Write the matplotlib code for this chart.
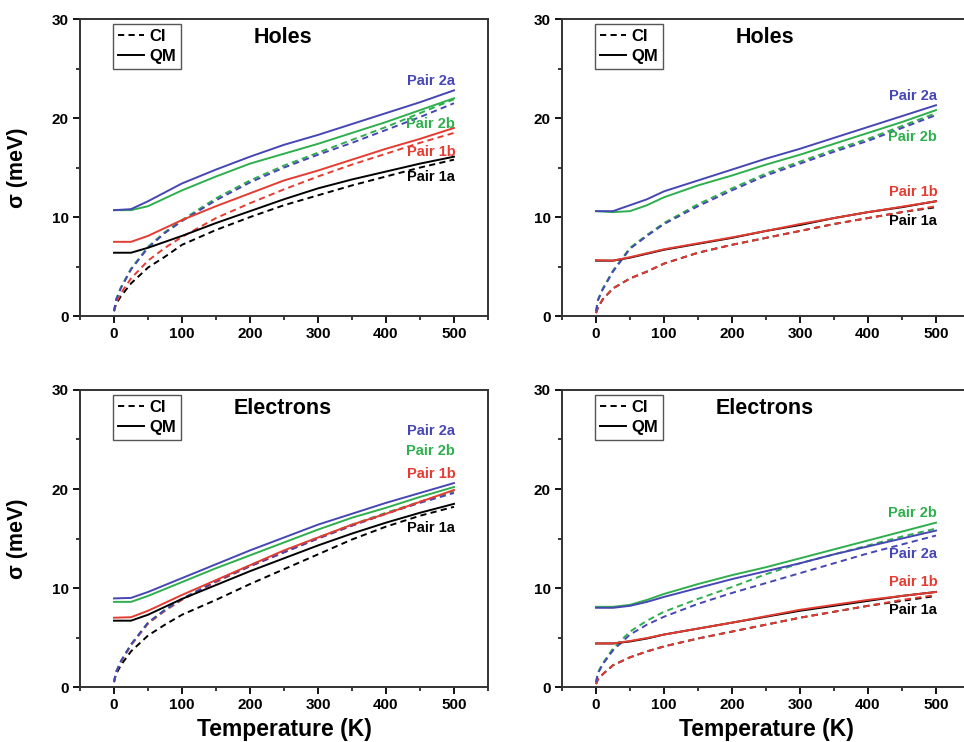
import matplotlib
matplotlib.use("Agg")
import matplotlib.pyplot as plt
from matplotlib.lines import Line2D
from matplotlib.ticker import MultipleLocator

plt.rcParams['font.family'] = ['Liberation Sans', 'DejaVu Sans']
plt.rcParams['font.weight'] = 'bold'

# temperatures (K)
T_CI = [0, 3, 10, 25, 50, 75, 100, 150, 200, 250, 300, 350, 400, 450, 500]
T_QM = [0, 25, 50, 75, 100, 150, 200, 250, 300, 350, 400, 450, 500]

# --- holes, left panel ---
hl_qm_2a = [10.7, 10.8, 11.6, 12.5, 13.4, 14.8, 16.1, 17.3, 18.3, 19.4, 20.5, 21.6, 22.8]
hl_qm_2b = [10.7, 10.7, 11.1, 11.9, 12.7, 14.1, 15.4, 16.4, 17.4, 18.5, 19.6, 20.8, 22.0]
hl_qm_1b = [7.5, 7.5, 8.1, 8.9, 9.7, 11.1, 12.4, 13.7, 14.7, 15.8, 16.9, 17.9, 19.0]
hl_qm_1a = [6.4, 6.4, 6.9, 7.5, 8.1, 9.4, 10.6, 11.8, 12.9, 13.8, 14.6, 15.4, 16.1]
hl_ci_2a = [0.5, 1.6, 2.8, 4.7, 6.9, 8.4, 9.6, 11.7, 13.5, 15.0, 16.3, 17.5, 18.8, 20.1, 21.5]
hl_ci_2b = [0.5, 1.7, 2.9, 4.8, 7.0, 8.5, 9.7, 11.9, 13.7, 15.2, 16.5, 17.8, 19.1, 20.5, 21.9]
hl_ci_1b = [0.5, 1.3, 2.3, 3.8, 5.6, 6.9, 8.0, 9.9, 11.4, 12.8, 14.1, 15.3, 16.4, 17.5, 18.5]
hl_ci_1a = [0.5, 1.2, 2.0, 3.3, 4.9, 6.0, 7.2, 8.7, 10.0, 11.2, 12.2, 13.2, 14.1, 15.0, 15.8]

# --- holes, right panel ---
hr_qm_2a = [10.6, 10.6, 11.2, 11.8, 12.6, 13.7, 14.8, 15.9, 16.9, 18.0, 19.1, 20.2, 21.3]
hr_qm_2b = [10.6, 10.5, 10.6, 11.2, 12.0, 13.2, 14.2, 15.3, 16.3, 17.4, 18.5, 19.6, 20.8]
hr_qm_1b = [5.65, 5.6, 5.95, 6.35, 6.75, 7.35, 7.95, 8.6, 9.3, 9.9, 10.5, 11.05, 11.6]
hr_qm_1a = [5.6, 5.6, 5.9, 6.3, 6.7, 7.3, 7.9, 8.6, 9.2, 9.9, 10.5, 11.0, 11.6]
hr_ci_2a = [0.5, 1.6, 2.7, 4.5, 6.8, 8.1, 9.3, 11.1, 12.7, 14.2, 15.4, 16.6, 17.7, 19.0, 20.3]
hr_ci_2b = [0.5, 1.7, 2.8, 4.6, 6.9, 8.2, 9.4, 11.3, 12.9, 14.4, 15.6, 16.8, 17.9, 19.2, 20.5]
hr_ci_1b = [0.3, 0.9, 1.7, 2.8, 3.8, 4.5, 5.3, 6.4, 7.2, 7.9, 8.6, 9.3, 9.9, 10.5, 11.1]
hr_ci_1a = [0.3, 0.9, 1.7, 2.8, 3.8, 4.5, 5.3, 6.4, 7.2, 7.9, 8.6, 9.3, 9.9, 10.5, 11.0]

# --- electrons, left panel ---
el_qm_2a = [8.95, 9.0, 9.6, 10.3, 11.0, 12.4, 13.8, 15.1, 16.4, 17.5, 18.6, 19.6, 20.6]
el_qm_2b = [8.6, 8.6, 9.2, 9.9, 10.6, 12.0, 13.3, 14.6, 15.9, 17.1, 18.1, 19.2, 20.2]
el_qm_1b = [7.0, 7.05, 7.7, 8.5, 9.3, 10.8, 12.3, 13.8, 15.1, 16.4, 17.5, 18.7, 19.9]
el_qm_1a = [6.7, 6.7, 7.3, 8.1, 8.9, 10.3, 11.7, 13.0, 14.3, 15.5, 16.6, 17.6, 18.5]
el_ci_2a = [0.5, 1.5, 2.6, 4.3, 6.5, 7.8, 8.9, 10.7, 12.2, 13.6, 15.0, 16.3, 17.5, 18.6, 19.6]
el_ci_2b = [0.5, 1.5, 2.6, 4.3, 6.5, 7.8, 8.9, 10.7, 12.3, 13.7, 15.1, 16.4, 17.6, 18.7, 19.8]
el_ci_1b = [0.5, 1.5, 2.5, 4.2, 6.4, 7.7, 8.8, 10.6, 12.2, 13.6, 15.0, 16.3, 17.5, 18.7, 19.8]
el_ci_1a = [0.5, 1.3, 2.2, 3.6, 5.2, 6.3, 7.3, 8.8, 10.4, 11.9, 13.4, 14.9, 16.2, 17.3, 18.2]

# --- electrons, right panel ---
er_qm_2a = [8.0, 8.0, 8.2, 8.6, 9.1, 10.0, 10.9, 11.7, 12.5, 13.4, 14.2, 15.0, 15.8]
er_qm_2b = [8.1, 8.1, 8.3, 8.8, 9.4, 10.4, 11.3, 12.1, 13.0, 13.9, 14.8, 15.7, 16.6]
er_qm_1b = [4.4, 4.4, 4.65, 4.95, 5.3, 5.9, 6.5, 7.15, 7.8, 8.3, 8.8, 9.2, 9.6]
er_qm_1a = [4.4, 4.4, 4.6, 4.9, 5.3, 5.9, 6.5, 7.1, 7.7, 8.2, 8.7, 9.2, 9.6]
er_ci_2a = [0.5, 1.4, 2.3, 3.7, 5.3, 6.3, 7.1, 8.4, 9.5, 10.5, 11.5, 12.5, 13.5, 14.4, 15.3]
er_ci_2b = [0.5, 1.5, 2.4, 3.9, 5.6, 6.7, 7.6, 8.9, 10.1, 11.4, 12.5, 13.4, 14.3, 15.2, 16.0]
er_ci_1b = [0.3, 0.8, 1.3, 2.2, 3.0, 3.6, 4.1, 4.9, 5.6, 6.3, 7.0, 7.6, 8.2, 8.8, 9.3]
er_ci_1a = [0.3, 0.8, 1.3, 2.2, 3.0, 3.6, 4.1, 4.9, 5.6, 6.3, 7.0, 7.6, 8.2, 8.7, 9.2]

pairs = ['Pair 1a', 'Pair 1b', 'Pair 2b', 'Pair 2a']
colors = ['black', '#e53c32', '#2fae4e', '#4646b4']

# label heights (meV) for Pair 1a, 1b, 2b, 2a
hl_lab = [14.0, 16.6, 19.4, 23.7]
hr_lab = [9.6, 12.5, 18.1, 22.2]
el_lab = [16.1, 21.5, 23.8, 25.9]
er_lab = [7.8, 10.6, 17.6, 13.4]

fig = plt.figure(figsize=(9.64, 7.42), dpi=100)
W, H = 0.4232, 0.4003
ax_hl = fig.add_axes([0.083, 0.574, W, H])
ax_hr = fig.add_axes([0.583, 0.574, W, H])
ax_el = fig.add_axes([0.083, 0.0741, W, H])
ax_er = fig.add_axes([0.583, 0.0741, W, H])

dash = (0, (3.2, 2.2))


def panel(ax, title, qm, ci, lab):
    for q, c, col in zip(qm, ci, colors):
        ax.plot(T_CI, c, color=col, lw=1.4, ls=dash)
    for q, c, col in zip(qm, ci, colors):
        ax.plot(T_QM, q, color=col, lw=1.4)
    for name, y, col in zip(pairs, lab, colors):
        ax.text(502, y, name, color=col, ha='right', va='center',
                fontsize=10.5, fontweight='bold')
    ax.text(248, 28.1, title, ha='center', va='center', fontsize=15.5,
            fontweight='bold')
    ax.set_xlim(-50, 550)
    ax.set_ylim(0, 30)
    ax.xaxis.set_major_locator(MultipleLocator(100))
    ax.xaxis.set_minor_locator(MultipleLocator(50))
    ax.yaxis.set_major_locator(MultipleLocator(10))
    ax.yaxis.set_minor_locator(MultipleLocator(5))
    ax.tick_params(which='major', direction='out', length=5, width=1.3,
                   labelsize=11, pad=3)
    ax.tick_params(which='minor', direction='out', length=3, width=1.1)
    for lbl in ax.get_xticklabels() + ax.get_yticklabels():
        lbl.set_fontweight('bold')
    for s in ax.spines.values():
        s.set_linewidth(1.4)
        s.set_color('#333333')
    handles = [Line2D([], [], color='black', lw=1.4, ls=dash),
               Line2D([], [], color='black', lw=1.4)]
    leg = ax.legend(handles, ['CI', 'QM'], loc='upper left',
                    bbox_to_anchor=(0.08, 0.983),
                    handlelength=1.6, handletextpad=0.3, labelspacing=0.3,
                    borderpad=0.3, borderaxespad=0, fancybox=False,
                    framealpha=1, edgecolor='#555555',
                    prop={'weight': 'bold', 'size': 12})
    leg.get_frame().set_linewidth(1.0)


panel(ax_hl, 'Holes', [hl_qm_1a, hl_qm_1b, hl_qm_2b, hl_qm_2a],
      [hl_ci_1a, hl_ci_1b, hl_ci_2b, hl_ci_2a], hl_lab)
panel(ax_hr, 'Holes', [hr_qm_1a, hr_qm_1b, hr_qm_2b, hr_qm_2a],
      [hr_ci_1a, hr_ci_1b, hr_ci_2b, hr_ci_2a], hr_lab)
panel(ax_el, 'Electrons', [el_qm_1a, el_qm_1b, el_qm_2b, el_qm_2a],
      [el_ci_1a, el_ci_1b, el_ci_2b, el_ci_2a], el_lab)
panel(ax_er, 'Electrons', [er_qm_1a, er_qm_1b, er_qm_2b, er_qm_2a],
      [er_ci_1a, er_ci_1b, er_ci_2b, er_ci_2a], er_lab)

for ax in (ax_hl, ax_el):
    ax.set_ylabel('σ (meV)', fontsize=15.5, fontweight='bold')
    ax.yaxis.set_label_coords(-0.128, 0.5)
for ax in (ax_el, ax_er):
    ax.set_xlabel('Temperature (K)', fontsize=16.5, fontweight='bold')
    ax.xaxis.set_label_coords(0.5, -0.105)

fig.savefig('out.png', dpi=100)
